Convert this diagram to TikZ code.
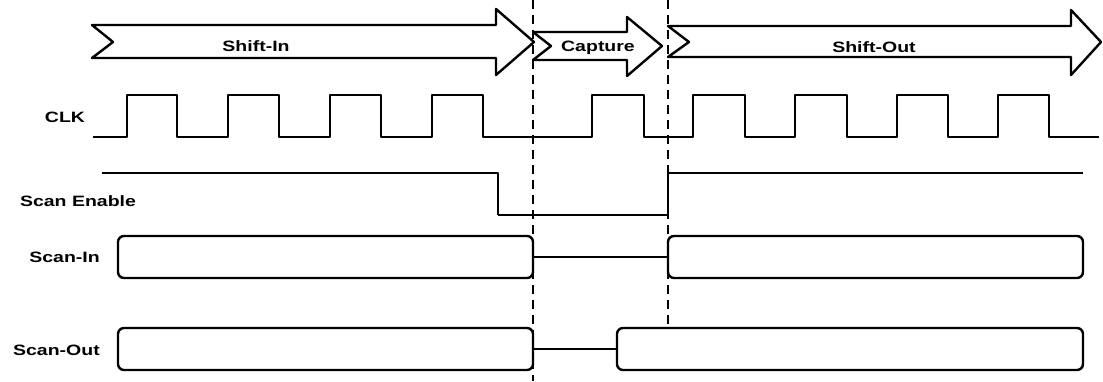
\documentclass[tikz,border=0pt]{standalone}
\usepackage{fontspec}
\setmainfont{Liberation Sans}[FakeStretch=1.3]
\begin{document}
\begin{tikzpicture}[x=1pt,y=-1pt,
  line join=round,
  sig/.style={draw=black, line width=2.4pt},
  hold/.style={draw=black, line width=1.9pt},
  phase/.style={draw=black, line width=2.4pt},
  guide/.style={draw=black, line width=2.8pt, dash pattern=on 9pt off 6pt},
  bus/.style={draw=black, line width=2.4pt, rounded corners=6pt, minimum height=42pt, inner sep=0pt, outer sep=0pt},
  lab/.style={font=\fontsize{15}{15}\selectfont\bfseries, inner sep=0pt, anchor=base},
  rlab/.style={lab, anchor=base east}]
\useasboundingbox (0,0) rectangle (1103,381);
\fill[white] (0,0) rectangle (1103,381);

% phase arrows
\draw[phase] (92,25) -- (496,25) -- (496,9) -- (534,42) -- (496,75) -- (496,58) -- (92,58) -- (113,42) -- cycle;
\node[lab] (tshin) at (256,51) {Shift-In};
\draw[phase] (533,32) -- (627,32) -- (627,17) -- (662,46) -- (627,76) -- (627,60) -- (533,60) -- (551,46) -- cycle;
\node[lab] (tcap) at (598,51) {Capture};
\draw[phase] (668,26) -- (1071,26) -- (1071,10) -- (1101,42) -- (1071,75) -- (1071,57) -- (668,57) -- (689,42) -- cycle;
\node[lab] (tshout) at (874,52) {Shift-Out};

% signal labels
\node[lab] (lclk) at (65,122) {CLK};
\node[lab] (lse) at (78,206) {Scan Enable};
\node[rlab] (lsi) at (100,262) {Scan-In};
\node[rlab] (lso) at (100,355) {Scan-Out};

% clock
\draw[sig] (93,137)
  foreach \r/\f in {127/177,228/279,330/381,432/483,592/644,693/745,795/847,897/948,998/1049}
  { -- (\r,137) -- (\r,95) -- (\f,95) -- (\f,137) } -- (1099,137);

% scan enable
\draw[sig] (102,173) -- (498,173) -- (498,215);
\draw[hold] (498,215) -- (668,215);
\draw[sig] (668,215) -- (668,173) -- (1083,173);

% scan-in
\node[bus, minimum width=415pt] (si1) at (325.5,257) {};
\node[bus, minimum width=415pt] (si2) at (875.5,257) {};
\draw[hold] (si1.east) -- (si2.west);

% scan-out
\node[bus, minimum width=415pt] (so1) at (325.5,349) {};
\node[bus, minimum width=466pt] (so2) at (850,349) {};
\draw[sig] (so1.east) -- (so2.west);

% phase boundaries
\coordinate (d1top) at (533,0);
\coordinate (d1bot) at (533,381);
\coordinate (d2top) at (668,0);
\coordinate (d2bot) at (668,328);
\draw[guide] (d1top) -- (d1bot);
\draw[guide] (d2top) -- (d2bot);
\end{tikzpicture}
\end{document}
